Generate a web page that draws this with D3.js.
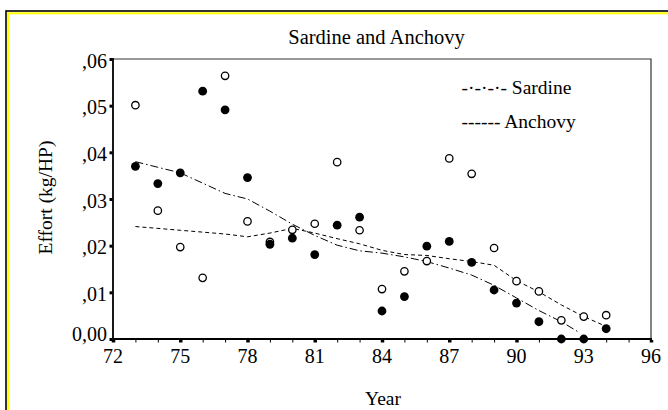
<!DOCTYPE html>
<html>
<head>
<meta charset="utf-8">
<script src="https://cdn.jsdelivr.net/npm/d3@7"></script>
<style>
  body { margin: 0; background: #fff; }
  text { font-family: "Liberation Serif", "Times New Roman", serif; fill: #000; }
</style>
</head>
<body>
<svg width="668" height="410"></svg>
<script>
// observed values
const years = [73, 74, 75, 76, 77, 78, 79, 80, 81, 82, 83, 84, 85, 86, 87, 88, 89, 90, 91, 92, 93, 94]
const sardine = [0.0370, 0.0333, 0.0356, 0.0531, 0.0491, 0.0346, 0.0203, 0.0216, 0.0181, 0.0244, 0.0261,
    0.0060, 0.0091, 0.0199, 0.0209, 0.0164, 0.0105, 0.0077, 0.0037, 0.0000, 0.0000, 0.0022]
const anchovy = [0.0501, 0.0275, 0.0197, 0.0131, 0.0564, 0.0252, 0.0208, 0.0234, 0.0247, 0.0379, 0.0233,
    0.0107, 0.0145, 0.0167, 0.0387, 0.0354, 0.0195, 0.0124, 0.0102, 0.0040, 0.0048, 0.0051]

// smoothed fit lines
const sardineFitYears = [73, 74, 75, 76, 77, 78, 79, 80, 81, 82, 83, 84, 85, 86, 87, 88, 89, 90, 91, 92, 92.8]
const sardineFit = [0.0380, 0.0368, 0.0356, 0.0334, 0.0312, 0.0300, 0.0274, 0.0246, 0.0222, 0.0201, 0.0189,
    0.0184, 0.0176, 0.0166, 0.0152, 0.0137, 0.0115, 0.0088, 0.0061, 0.0037, 0.0014]
const anchovyFitYears = [73, 74, 75, 76, 77, 78, 79, 80, 81, 82, 83, 84, 85, 86, 87, 88, 89, 90, 91, 92, 93, 94]
const anchovyFit = [0.0241, 0.0237, 0.0233, 0.0229, 0.0225, 0.0219, 0.0227, 0.0237, 0.0227, 0.0215, 0.0204,
    0.0190, 0.0181, 0.0179, 0.0172, 0.0166, 0.0158, 0.0125, 0.0101, 0.0073, 0.0048, 0.0027]

// axes
const xMajor = [72, 75, 78, 81, 84, 87, 90, 93, 96]
const xMinor = [73, 74, 76, 77, 79, 80, 82, 83, 85, 86, 88, 89, 91, 92, 94, 95]
const yTicks = [0, 0.01, 0.02, 0.03, 0.04, 0.05, 0.06]
const yTickLabels = ['0,00', ',01', ',02', ',03', ',04', ',05', ',06']

const svg = d3.select('svg')

const x = d3.scaleLinear().domain([72, 96]).range([113, 651])
const y = d3.scaleLinear().domain([0, 0.06]).range([339, 59])

// outer frame (runs off the right and bottom edge)
svg.append('rect')
    .attr('x', 6).attr('y', 11)
    .attr('width', 720).attr('height', 460)
    .attr('fill', 'none')
    .attr('stroke', '#000')
    .attr('stroke-width', 1.6)
svg.append('rect')
    .attr('x', 8).attr('y', 13.3)
    .attr('width', 720).attr('height', 460)
    .attr('fill', 'none')
    .attr('stroke', '#ffff00')
    .attr('stroke-width', 2)

// title
svg.append('text')
    .attr('x', 376.5).attr('y', 44)
    .attr('text-anchor', 'middle')
    .style('font-size', '20.5px')
    .text('Sardine and Anchovy')

// plot box: thin top/right
svg.append('path')
    .attr('d', `M${x(72)},${y(0.06)}H${x(96)}V${y(0)}`)
    .attr('fill', 'none')
    .attr('stroke', '#333')
    .attr('stroke-width', 1.2)

// x ticks
const xAxisMinor = svg.append('g')
    .attr('transform', `translate(0,${y(0) + 1})`)
    .call(d3.axisBottom(x).tickValues(xMinor).tickSize(2.5).tickFormat(''))
xAxisMinor.select('.domain').remove()
xAxisMinor.selectAll('line').attr('stroke-width', 1)

const xAxisMajor = svg.append('g')
    .attr('transform', `translate(0,${y(0) + 1})`)
    .call(d3.axisBottom(x).tickValues(xMajor).tickSize(2.5).tickFormat(''))
xAxisMajor.select('.domain').remove()
xAxisMajor.selectAll('line').attr('stroke-width', 3.5)

svg.append('g').selectAll('text')
    .data(xMajor)
    .join('text')
        .attr('x', d => x(d))
        .attr('y', 363)
        .attr('text-anchor', 'middle')
        .style('font-size', '20px')
        .text(d => d)

// y ticks
const yAxis = svg.append('g')
    .attr('transform', `translate(${x(72) - 0.5},0)`)
    .call(d3.axisLeft(y).tickValues(yTicks).tickSize(3).tickFormat(''))
yAxis.select('.domain').remove()
yAxis.selectAll('line').attr('stroke-width', 3)

svg.append('g').selectAll('text')
    .data(yTicks)
    .join('text')
        .attr('x', 107)
        .attr('y', d => y(d) + (d === 0 ? 2 : 8.5))
        .attr('text-anchor', 'end')
        .style('font-size', '20px')
        .text((d, i) => yTickLabels[i])

// left and bottom axis lines
svg.append('path')
    .attr('d', `M${x(72)},${y(0.06) - 1}V${y(0)}H${x(96) + 1}`)
    .attr('fill', 'none')
    .attr('stroke', '#000')
    .attr('stroke-width', 1.8)

// axis titles
svg.append('text')
    .attr('x', 383).attr('y', 405)
    .attr('text-anchor', 'middle')
    .style('font-size', '19.5px')
    .text('Year')

svg.append('text')
    .attr('transform', 'translate(52,197.5) rotate(-90)')
    .attr('text-anchor', 'middle')
    .style('font-size', '19.5px')
    .text('Effort (kg/HP)')

// fit lines
const line = d3.line()
    .x(d => x(d[0]))
    .y(d => y(d[1]))

svg.append('path')
    .datum(sardineFitYears.map((d, i) => [d, sardineFit[i]]))
    .attr('d', line)
    .attr('fill', 'none')
    .attr('stroke', '#000')
    .attr('stroke-width', 1)
    .attr('stroke-dasharray', '8,3,1.5,3')

svg.append('path')
    .datum(anchovyFitYears.map((d, i) => [d, anchovyFit[i]]))
    .attr('d', line)
    .attr('fill', 'none')
    .attr('stroke', '#000')
    .attr('stroke-width', 1)
    .attr('stroke-dasharray', '4,3')

// points: open = anchovy, filled = sardine
svg.append('g').selectAll('circle')
    .data(years)
    .join('circle')
        .attr('cx', d => x(d))
        .attr('cy', (d, i) => y(anchovy[i]))
        .attr('r', 3.7)
        .attr('fill', '#fff')
        .attr('stroke', '#000')
        .attr('stroke-width', 1.3)

svg.append('g').selectAll('circle')
    .data(years)
    .join('circle')
        .attr('cx', d => x(d))
        .attr('cy', (d, i) => y(sardine[i]))
        .attr('r', 4.4)
        .attr('fill', '#000')

// legend (plain text samples, as in the original)
svg.append('text')
    .attr('x', 461.5).attr('y', 94)
    .style('font-size', '19.5px')
    .text('-·-·-·- Sardine')

svg.append('text')
    .attr('x', 461.5).attr('y', 127.5)
    .style('font-size', '19.5px')
    .text('------ Anchovy')
</script>
</body>
</html>
